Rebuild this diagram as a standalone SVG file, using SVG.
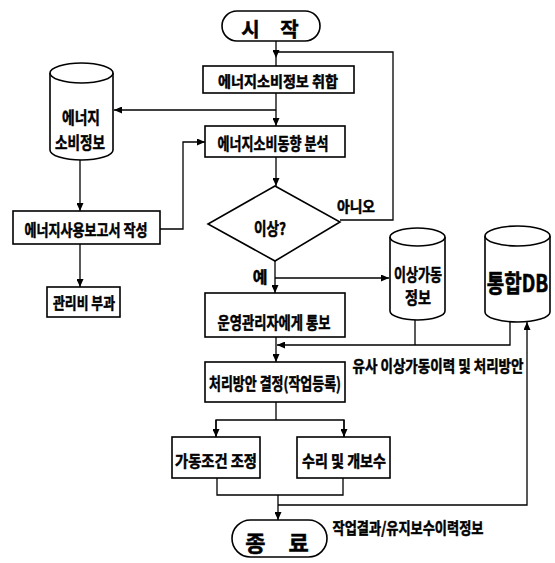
<svg xmlns="http://www.w3.org/2000/svg" width="555" height="563" viewBox="0 0 555 563">
<style>
.box{fill:#fff;stroke:#000;stroke-width:1.6}
.ln{fill:none;stroke:#000;stroke-width:1.3}
.t{font-family:"Noto Sans CJK KR","Noto Sans",sans-serif;font-weight:bold;fill:#000;stroke:#000;stroke-width:0.5;text-anchor:middle}
</style>
<defs>
<marker id="ah" viewBox="0 0 8 7" refX="8" refY="3.5" markerWidth="8" markerHeight="7" markerUnits="userSpaceOnUse" orient="auto">
<path d="M0,0 L8,3.5 L0,7 z" fill="#000"/>
</marker>
</defs>
<rect width="555" height="563" fill="#fff"/>
<g id="connectors">
<line class="ln" x1="276" y1="41" x2="276" y2="58" marker-end="url(#ah)"/>
<line class="ln" x1="276" y1="58" x2="276" y2="66"/>
<line class="ln" x1="276" y1="93" x2="276" y2="126" marker-end="url(#ah)"/>
<line class="ln" x1="276" y1="110" x2="114" y2="110" marker-end="url(#ah)"/>
<line class="ln" x1="80" y1="160" x2="80" y2="211" marker-end="url(#ah)"/>
<polyline class="ln" points="160,229 183,229 183,142 205,142" marker-end="url(#ah)"/>
<line class="ln" x1="80" y1="244" x2="80" y2="287" marker-end="url(#ah)"/>
<line class="ln" x1="276" y1="157" x2="276" y2="186" marker-end="url(#ah)"/>
<polyline class="ln" points="340,220 393,220 393,52 276,52"/>
<line class="ln" x1="275" y1="261" x2="275" y2="293" marker-end="url(#ah)"/>
<line class="ln" x1="275" y1="278" x2="389" y2="278" marker-end="url(#ah)"/>
<polyline class="ln" points="415,320 415,345"/>
<polyline class="ln" points="510,321 510,345 277,345" marker-end="url(#ah)"/>
<line class="ln" x1="276" y1="337" x2="276" y2="362" marker-end="url(#ah)"/>
<line class="ln" x1="276" y1="402" x2="276" y2="420"/>
<polyline class="ln" points="216,437 216,420 344,420 344,437"/>
<line class="ln" x1="216" y1="420" x2="216" y2="437" marker-end="url(#ah)"/>
<line class="ln" x1="344" y1="420" x2="344" y2="437" marker-end="url(#ah)"/>
<polyline class="ln" points="217,478 217,495 343,495 343,478"/>
<line class="ln" x1="278" y1="495" x2="278" y2="520" marker-end="url(#ah)"/>
<polyline class="ln" points="278,505 527,505 527,322" marker-end="url(#ah)"/>
<text class="t" x="356" y="212" font-size="15" textLength="38" lengthAdjust="spacingAndGlyphs">아니오</text>
<text class="t" x="260" y="283" font-size="16">예</text>
<text class="t" x="438" y="372" font-size="16" textLength="171" lengthAdjust="spacingAndGlyphs">유사 이상가동이력 및 처리방안</text>
<text class="t" x="408" y="534" font-size="16" textLength="151" lengthAdjust="spacingAndGlyphs">작업결과/유지보수이력정보</text>
</g>
<g id="start">
<rect class="box" x="222" y="11" width="98" height="30" rx="15"/>
<text class="t" x="270" y="37" font-size="20" word-spacing="16">시 작</text>
</g>
<g id="collect">
<rect class="box" x="203" y="66" width="151" height="27"/>
<text class="t" x="278" y="87" font-size="15" textLength="120" lengthAdjust="spacingAndGlyphs">에너지소비정보 취합</text>
</g>
<g id="energy-info">
<path class="box" d="M50,73 V150 A31.5,10 0 0 0 113,150 V73"/>
<ellipse class="box" cx="81.5" cy="73" rx="31.5" ry="10"/>
<text class="t" x="81" y="124" font-size="17" textLength="38" lengthAdjust="spacingAndGlyphs">에너지</text>
<text class="t" x="80" y="149" font-size="17" textLength="50" lengthAdjust="spacingAndGlyphs">소비정보</text>
</g>
<g id="analyze">
<rect class="box" x="205" y="126" width="140" height="31"/>
<text class="t" x="273" y="150" font-size="17" textLength="111" lengthAdjust="spacingAndGlyphs">에너지소비동향 분석</text>
</g>
<g id="report">
<rect class="box" x="13" y="211" width="147" height="33"/>
<text class="t" x="86" y="236" font-size="16" textLength="123" lengthAdjust="spacingAndGlyphs">에너지사용보고서 작성</text>
</g>
<g id="fee">
<rect class="box" x="47" y="287" width="73" height="30"/>
<text class="t" x="84" y="309" font-size="16" textLength="62" lengthAdjust="spacingAndGlyphs">관리비 부과</text>
</g>
<g id="decision">
<polygon class="box" points="275,186 340,222 275,261 208,224"/>
<text class="t" x="270" y="235" font-size="17" textLength="32" lengthAdjust="spacingAndGlyphs">이상?</text>
</g>
<g id="abnormal-info">
<path class="box" d="M390,237 V311 A27.5,9 0 0 0 445,311 V237"/>
<ellipse class="box" cx="417.5" cy="237" rx="27.5" ry="9"/>
<text class="t" x="418" y="281" font-size="17" textLength="48" lengthAdjust="spacingAndGlyphs">이상가동</text>
<text class="t" x="418" y="304" font-size="17" textLength="26" lengthAdjust="spacingAndGlyphs">정보</text>
</g>
<g id="integrated-db">
<path class="box" d="M485,236 V312 A32.5,10 0 0 0 550,312 V236"/>
<ellipse class="box" cx="517.5" cy="236" rx="32.5" ry="10"/>
<text class="t" transform="translate(517.5,292) scale(1,1.25)" x="0" y="0" font-size="19">통합DB</text>
</g>
<g id="notify">
<rect class="box" x="205" y="293" width="140" height="44"/>
<text class="t" x="274" y="329" font-size="17" textLength="113" lengthAdjust="spacingAndGlyphs">운영관리자에게 통보</text>
</g>
<g id="plan">
<rect class="box" x="205" y="362" width="140" height="40"/>
<text class="t" x="275" y="390" font-size="17" textLength="132" lengthAdjust="spacingAndGlyphs">처리방안 결정(작업등록)</text>
</g>
<g id="adjust">
<rect class="box" x="172" y="437" width="88" height="41"/>
<text class="t" x="216" y="467" font-size="16" textLength="82" lengthAdjust="spacingAndGlyphs">가동조건 조정</text>
</g>
<g id="repair">
<rect class="box" x="297" y="437" width="93" height="41"/>
<text class="t" x="344" y="467" font-size="16" textLength="84" lengthAdjust="spacingAndGlyphs">수리 및 개보수</text>
</g>
<g id="end">
<rect class="box" x="232" y="520" width="95" height="37" rx="18.5"/>
<text class="t" x="277" y="551" font-size="22" word-spacing="18">종 료</text>
</g>
</svg>
